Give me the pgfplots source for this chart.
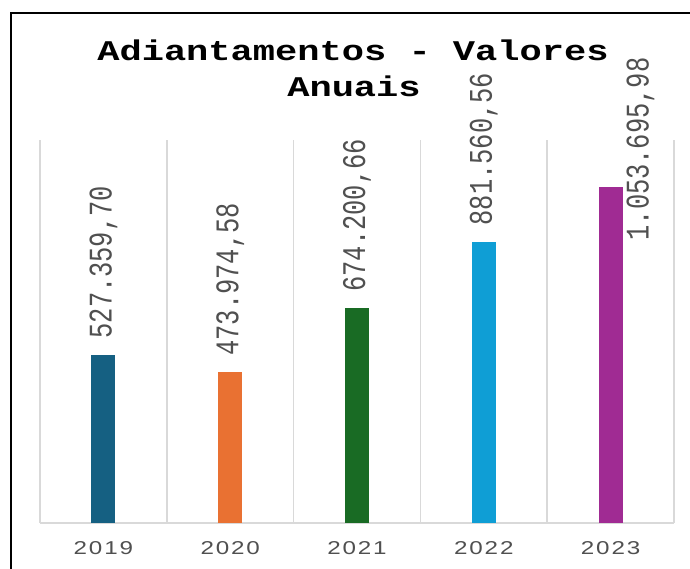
\documentclass[border=0pt]{standalone}
\usepackage{pgfplots}
\pgfplotsset{compat=1.18}
\usepackage{fontspec}
\setmainfont{Liberation Sans}
\newfontfamily\titlefont[FakeStretch=1.3]{Liberation Mono}
\newfontfamily\labfont[FakeStretch=0.77]{Liberation Mono}
\newfontfamily\tickfont[FakeStretch=1.3,LetterSpace=10]{Liberation Sans}
\definecolor{cA}{HTML}{156082}
\definecolor{cB}{HTML}{E97132}
\definecolor{cC}{HTML}{196B24}
\definecolor{cD}{HTML}{0F9ED5}
\definecolor{cE}{HTML}{A02B93}
\definecolor{gridc}{HTML}{D9D9D9}
\definecolor{txt}{HTML}{505050}
\begin{document}
\begin{tikzpicture}
\useasboundingbox (0pt,0pt) rectangle (690pt,569pt);
\fill[white] (0pt,0pt) rectangle (690pt,569pt);
\draw[line width=2pt, black] (10.5pt,-5pt) -- (10.5pt,555.5pt) -- (700pt,555.5pt);
\node[anchor=base, font=\titlefont\bfseries\fontsize{28.5}{34}\selectfont] at (353pt,508pt) {Adiantamentos - Valores};
\node[anchor=base, font=\titlefont\bfseries\fontsize{28.5}{34}\selectfont] at (354pt,472pt) {Anuais};
\begin{axis}[
  at={(40pt,46pt)}, anchor=south west, scale only axis,
  width=634pt, height=383pt,
  xmin=-0.5, xmax=4.5, ymin=0, ymax=1200000,
  axis y line=none, axis x line*=bottom,
  x axis line style={draw=gridc, line width=1.5pt, -},
  xtick={0,1,2,3,4},
  xticklabels={2019,2020,2021,2022,2023},
  major tick length=0pt, minor tick length=0pt,
  minor xtick={-0.5,0.5,1.5,2.5,3.5,4.5},
  xminorgrids, minor grid style={draw=gridc, line width=1.5pt},
  xticklabel style={font=\tickfont\fontsize{18.6}{20}\selectfont, text=txt, inner sep=0pt, anchor=north, yshift=-18.5pt},
  ybar, bar width=24pt,
  point meta=explicit symbolic,
  nodes near coords,
  every node near coord/.append style={font=\labfont\fontsize{33}{35}\selectfont, text=txt, inner sep=0pt, yshift=16pt, rotate=90, anchor=west},
  clip=false,
]
\addplot[fill=cA, draw=none, bar shift=0pt] coordinates {(0,527359.70) [527.359,70]};
\addplot[fill=cB, draw=none, bar shift=0pt] coordinates {(1,473974.58) [473.974,58]};
\addplot[fill=cC, draw=none, bar shift=0pt] coordinates {(2,674200.66) [674.200,66]};
\addplot[fill=cD, draw=none, bar shift=0pt] coordinates {(3,881560.56) [881.560,56]};
\addplot[fill=cE, draw=none, bar shift=0pt, nodes near coords style={xshift=-70pt, yshift=-30pt}] coordinates {(4,1053695.98) [1.053.695,98]};
\end{axis}
\end{tikzpicture}
\end{document}
